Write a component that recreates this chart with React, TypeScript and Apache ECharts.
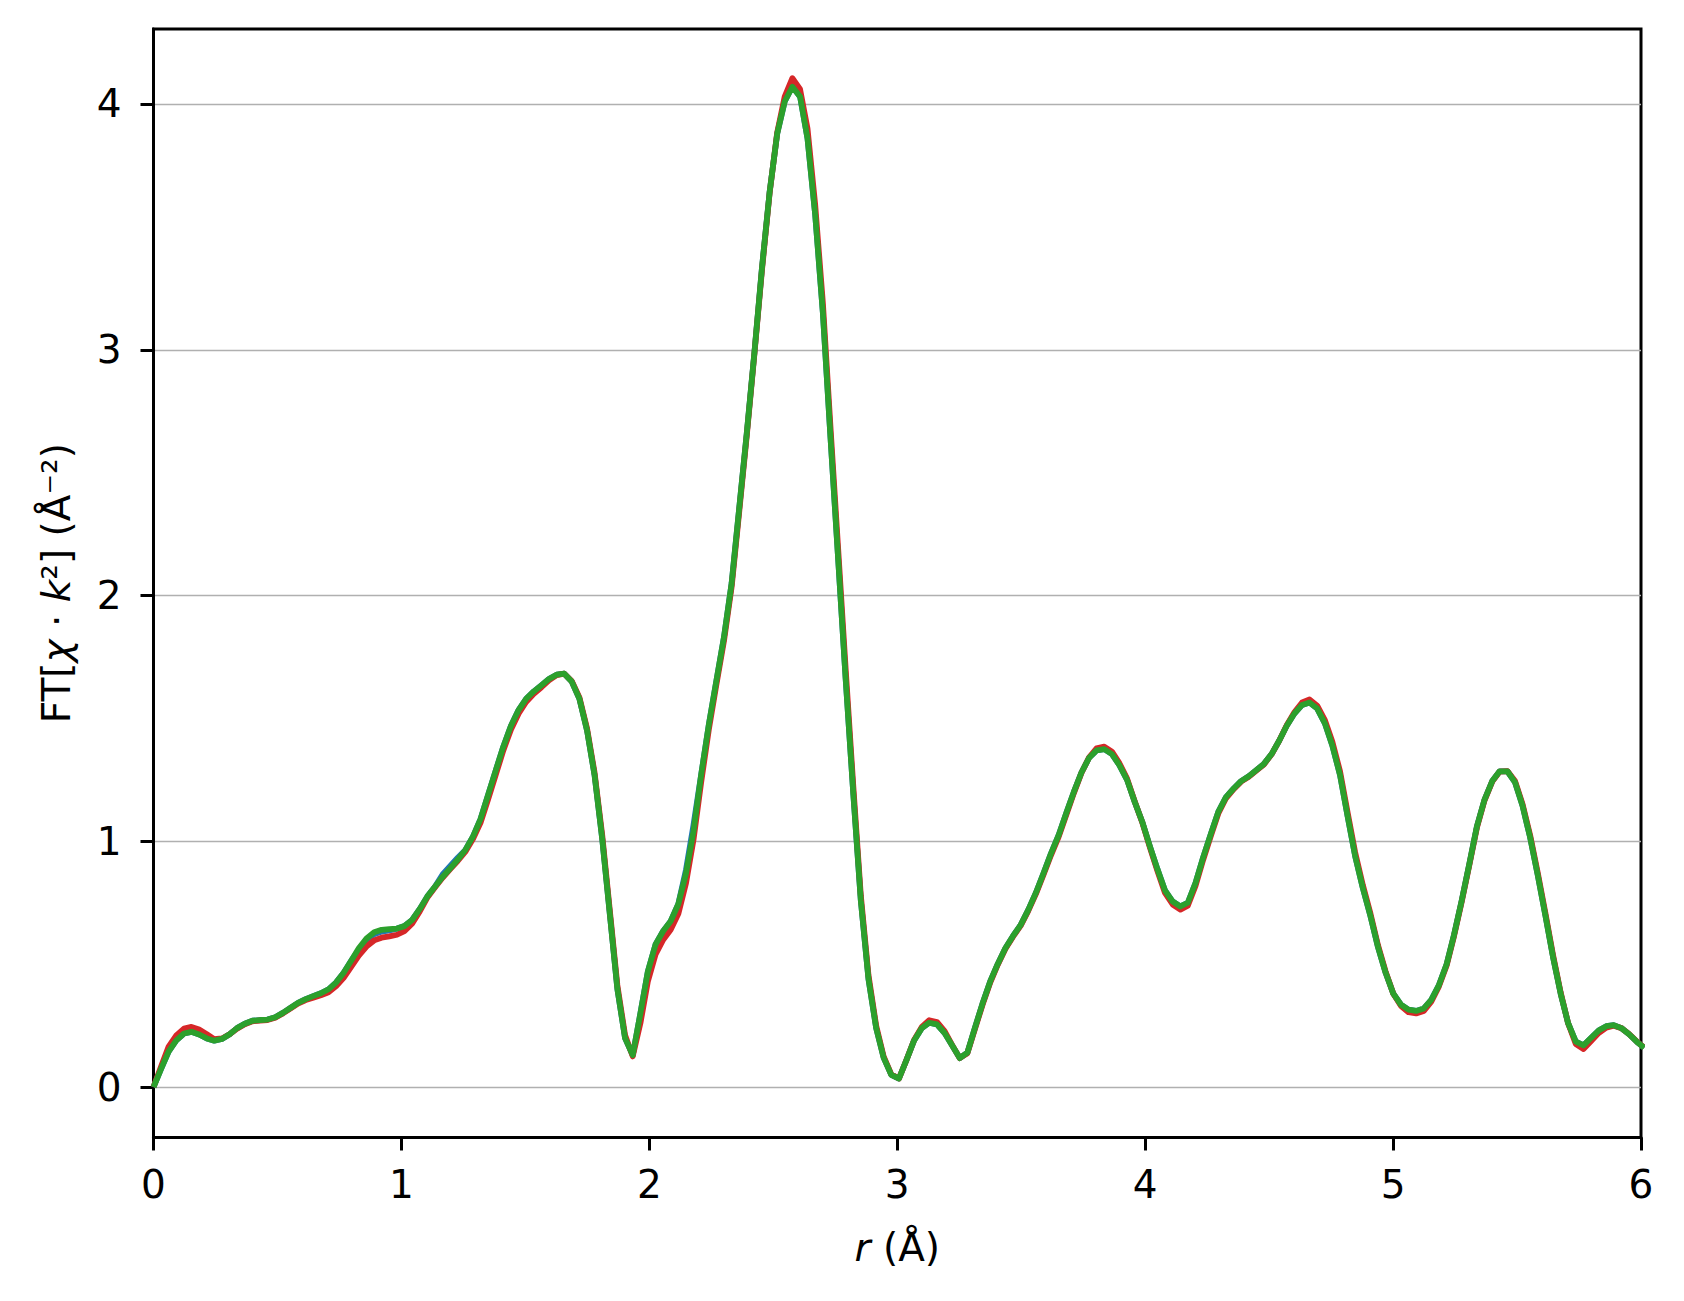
import React, { useEffect, useRef } from "react";
import * as echarts from "echarts";

// r grid (Å)
const rValues = [
  0.000, 0.031, 0.061, 0.092, 0.123, 0.153, 0.184, 0.215, 0.245, 0.276,
  0.307, 0.337, 0.368, 0.399, 0.430, 0.460, 0.491, 0.522, 0.552, 0.583,
  0.614, 0.644, 0.675, 0.706, 0.736, 0.767, 0.798, 0.828, 0.859, 0.890,
  0.920, 0.951, 0.982, 1.012, 1.043, 1.074, 1.104, 1.135, 1.166, 1.197,
  1.227, 1.258, 1.289, 1.319, 1.350, 1.381, 1.411, 1.442, 1.473, 1.503,
  1.534, 1.565, 1.595, 1.626, 1.657, 1.687, 1.718, 1.749, 1.779, 1.810,
  1.841, 1.871, 1.902, 1.933, 1.964, 1.994, 2.025, 2.056, 2.086, 2.117,
  2.148, 2.178, 2.209, 2.240, 2.270, 2.301, 2.332, 2.362, 2.393, 2.424,
  2.454, 2.485, 2.516, 2.546, 2.577, 2.608, 2.638, 2.669, 2.700, 2.731,
  2.761, 2.792, 2.823, 2.853, 2.884, 2.915, 2.945, 2.976, 3.007, 3.037,
  3.068, 3.099, 3.129, 3.160, 3.191, 3.221, 3.252, 3.283, 3.313, 3.344,
  3.375, 3.405, 3.436, 3.467, 3.498, 3.528, 3.559, 3.590, 3.620, 3.651,
  3.682, 3.712, 3.743, 3.774, 3.804, 3.835, 3.866, 3.896, 3.927, 3.958,
  3.988, 4.019, 4.050, 4.080, 4.111, 4.142, 4.172, 4.203, 4.234, 4.265,
  4.295, 4.326, 4.357, 4.387, 4.418, 4.449, 4.479, 4.510, 4.541, 4.571,
  4.602, 4.633, 4.663, 4.694, 4.725, 4.755, 4.786, 4.817, 4.847, 4.878,
  4.909, 4.939, 4.970, 5.001, 5.032, 5.062, 5.093, 5.124, 5.154, 5.185,
  5.216, 5.246, 5.277, 5.308, 5.338, 5.369, 5.400, 5.430, 5.461, 5.492,
  5.522, 5.553, 5.584, 5.614, 5.645, 5.676, 5.706, 5.737, 5.768, 5.798,
  5.829, 5.860, 5.890, 5.921, 5.952, 5.983, 6.013,
];

const greenValues = [
  0.000, 0.075, 0.145, 0.190, 0.218, 0.225, 0.214, 0.198, 0.189, 0.196,
  0.215, 0.240, 0.258, 0.270, 0.273, 0.275, 0.284, 0.302, 0.322, 0.343,
  0.358, 0.370, 0.382, 0.398, 0.425, 0.465, 0.515, 0.565, 0.605, 0.630,
  0.640, 0.643, 0.645, 0.655, 0.680, 0.725, 0.775, 0.815, 0.855, 0.890,
  0.925, 0.965, 1.020, 1.090, 1.190, 1.290, 1.385, 1.470, 1.535, 1.580,
  1.610, 1.635, 1.660, 1.678, 1.682, 1.650, 1.580, 1.450, 1.270, 1.010,
  0.700, 0.400, 0.200, 0.130, 0.300, 0.470, 0.580, 0.635, 0.675, 0.745,
  0.870, 1.040, 1.270, 1.475, 1.650, 1.830, 2.050, 2.350, 2.660, 2.990,
  3.330, 3.640, 3.880, 4.010, 4.070, 4.030, 3.860, 3.550, 3.150, 2.640,
  2.160, 1.660, 1.190, 0.760, 0.440, 0.240, 0.120, 0.050, 0.035, 0.110,
  0.190, 0.240, 0.262, 0.255, 0.220, 0.170, 0.118, 0.140, 0.240, 0.340,
  0.430, 0.500, 0.565, 0.615, 0.660, 0.720, 0.790, 0.870, 0.950, 1.025,
  1.115, 1.200, 1.280, 1.340, 1.370, 1.375, 1.355, 1.310, 1.250, 1.160,
  1.080, 0.980, 0.885, 0.800, 0.755, 0.735, 0.750, 0.830, 0.935, 1.030,
  1.120, 1.180, 1.215, 1.245, 1.265, 1.290, 1.315, 1.355, 1.410, 1.470,
  1.520, 1.555, 1.565, 1.540, 1.480, 1.390, 1.270, 1.100, 0.940, 0.810,
  0.695, 0.570, 0.465, 0.380, 0.335, 0.315, 0.310, 0.320, 0.355, 0.415,
  0.500, 0.620, 0.760, 0.910, 1.060, 1.170, 1.245, 1.285, 1.285, 1.240,
  1.145, 1.015, 0.860, 0.700, 0.530, 0.380, 0.260, 0.185, 0.170, 0.200,
  0.230, 0.248, 0.252, 0.240, 0.215, 0.185, 0.160,
];

const redValues = [
  0.000, 0.085, 0.165, 0.210, 0.238, 0.245, 0.234, 0.215, 0.195, 0.198,
  0.215, 0.238, 0.256, 0.268, 0.271, 0.273, 0.282, 0.300, 0.320, 0.340,
  0.354, 0.364, 0.374, 0.386, 0.410, 0.445, 0.490, 0.535, 0.572, 0.597,
  0.608, 0.613, 0.620, 0.635, 0.665, 0.715, 0.770, 0.812, 0.852, 0.887,
  0.920, 0.958, 1.010, 1.075, 1.172, 1.272, 1.370, 1.455, 1.520, 1.567,
  1.600, 1.627, 1.655, 1.676, 1.682, 1.652, 1.585, 1.458, 1.280, 1.025,
  0.715, 0.415, 0.212, 0.125, 0.260, 0.430, 0.540, 0.600, 0.640, 0.705,
  0.830, 1.005, 1.240, 1.455, 1.635, 1.815, 2.035, 2.335, 2.650, 2.985,
  3.320, 3.635, 3.885, 4.030, 4.105, 4.060, 3.900, 3.590, 3.190, 2.680,
  2.200, 1.700, 1.220, 0.780, 0.455, 0.250, 0.125, 0.052, 0.035, 0.110,
  0.192, 0.245, 0.272, 0.265, 0.228, 0.172, 0.118, 0.138, 0.235, 0.335,
  0.425, 0.497, 0.562, 0.612, 0.657, 0.716, 0.785, 0.864, 0.943, 1.018,
  1.108, 1.195, 1.278, 1.342, 1.378, 1.385, 1.365, 1.318, 1.255, 1.162,
  1.078, 0.975, 0.878, 0.790, 0.743, 0.722, 0.738, 0.818, 0.925, 1.022,
  1.113, 1.175, 1.212, 1.243, 1.263, 1.288, 1.313, 1.354, 1.410, 1.472,
  1.525, 1.565, 1.577, 1.552, 1.493, 1.405, 1.285, 1.115, 0.955, 0.822,
  0.705, 0.578, 0.470, 0.380, 0.330, 0.305, 0.300, 0.310, 0.348, 0.410,
  0.495, 0.615, 0.755, 0.905, 1.055, 1.167, 1.243, 1.284, 1.286, 1.245,
  1.152, 1.024, 0.870, 0.710, 0.538, 0.385, 0.260, 0.175, 0.155, 0.187,
  0.220, 0.242, 0.250, 0.240, 0.216, 0.186, 0.161,
];

const blueValues = [
  0.000, 0.075, 0.145, 0.190, 0.218, 0.225, 0.214, 0.198, 0.189, 0.196,
  0.215, 0.240, 0.258, 0.270, 0.273, 0.275, 0.284, 0.302, 0.322, 0.343,
  0.358, 0.370, 0.382, 0.398, 0.425, 0.465, 0.515, 0.558, 0.597, 0.622,
  0.633, 0.638, 0.645, 0.655, 0.680, 0.725, 0.775, 0.815, 0.865, 0.900,
  0.933, 0.965, 1.020, 1.090, 1.190, 1.290, 1.385, 1.470, 1.535, 1.580,
  1.610, 1.635, 1.660, 1.678, 1.682, 1.650, 1.580, 1.450, 1.270, 1.010,
  0.700, 0.400, 0.200, 0.130, 0.300, 0.470, 0.580, 0.635, 0.675, 0.745,
  0.885, 1.065, 1.270, 1.475, 1.650, 1.830, 2.050, 2.350, 2.660, 2.990,
  3.330, 3.640, 3.880, 4.010, 4.070, 4.030, 3.860, 3.550, 3.150, 2.640,
  2.160, 1.660, 1.190, 0.760, 0.440, 0.240, 0.120, 0.050, 0.035, 0.110,
  0.190, 0.240, 0.262, 0.255, 0.220, 0.170, 0.118, 0.140, 0.240, 0.340,
  0.430, 0.500, 0.565, 0.615, 0.660, 0.720, 0.790, 0.870, 0.950, 1.025,
  1.115, 1.200, 1.280, 1.340, 1.370, 1.375, 1.355, 1.310, 1.250, 1.160,
  1.080, 0.980, 0.885, 0.800, 0.755, 0.735, 0.750, 0.830, 0.935, 1.030,
  1.120, 1.180, 1.215, 1.245, 1.265, 1.290, 1.315, 1.355, 1.410, 1.470,
  1.520, 1.555, 1.565, 1.540, 1.480, 1.390, 1.270, 1.100, 0.940, 0.810,
  0.695, 0.570, 0.465, 0.380, 0.335, 0.315, 0.310, 0.320, 0.355, 0.415,
  0.500, 0.620, 0.760, 0.910, 1.060, 1.170, 1.245, 1.285, 1.285, 1.240,
  1.145, 1.015, 0.860, 0.700, 0.530, 0.380, 0.260, 0.185, 0.170, 0.200,
  0.230, 0.248, 0.252, 0.240, 0.215, 0.185, 0.160,
];

const xTicks = [0, 1, 2, 3, 4, 5, 6];
const yTicks = [0, 1, 2, 3, 4];
const yLimits = [-0.205, 4.305];

const FONT = "DejaVu Sans";

export default function App() {
  const ref = useRef<HTMLDivElement>(null);
  useEffect(() => {
    if (!ref.current) return;
    const chart = echarts.init(ref.current, undefined, { renderer: "svg" });

    // plot area geometry (px)
    const H = 1301;
    const plotLeft = 153.5;
    const plotRight = 43;
    const plotTop = 29;
    const plotBottom = 163.5;
    const plotH = H - plotTop - plotBottom;
    const pxPerUnit = plotH / (yLimits[1] - yLimits[0]);
    const yTickMin = yTicks[0];
    const yTickMax = yTicks[yTicks.length - 1];
    // second (tick/grid-line) grid spans exactly the tick range of the data axis
    const tickGridTop = plotTop + (yLimits[1] - yTickMax) * pxPerUnit;
    const tickGridBottom = plotBottom + (yTickMin - yLimits[0]) * pxPerUnit;

    const spine = { show: true, onZero: false, lineStyle: { color: "#000", width: 3 } };
    const tick = { show: true, inside: false, length: 13, lineStyle: { color: "#000", width: 3 } };

    const pairs = (vals: number[]) => rValues.map((r, i) => [r, vals[i]]);
    const lineSeries = (name: string, color: string, vals: number[]) => ({
      name,
      type: "line",
      xAxisIndex: 0,
      yAxisIndex: 0,
      data: pairs(vals),
      showSymbol: false,
      symbol: "none",
      silent: true,
      clip: true,
      z: 2,
      lineStyle: { color, width: 5.8, join: "round", cap: "butt" },
      emphasis: { disabled: true },
    });

    const option: any = {
      animation: false,
      backgroundColor: "#ffffff",
      textStyle: { fontFamily: FONT },
      grid: [
        {
          left: plotLeft,
          right: plotRight,
          top: plotTop,
          bottom: plotBottom,
          show: true,
          borderColor: "#000000",
          borderWidth: 3,
          backgroundColor: "transparent",
          containLabel: false,
          outerBoundsMode: "none",
        },
        {
          left: plotLeft,
          right: plotRight,
          top: tickGridTop,
          bottom: tickGridBottom,
          show: false,
          containLabel: false,
          outerBoundsMode: "none",
        },
      ],
      xAxis: [
        {
          type: "value",
          gridIndex: 0,
          position: "bottom",
          min: xTicks[0],
          max: xTicks[xTicks.length - 1],
          interval: 1,
          axisLine: spine,
          axisTick: tick,
          axisLabel: { fontSize: 39, color: "#000", fontFamily: FONT, margin: 27 },
          splitLine: { show: false },
          name: "{i|r} (Å)",
          nameLocation: "middle",
          nameGap: 90,
          nameTextStyle: {
            fontSize: 39,
            color: "#000",
            fontFamily: FONT,
            lineHeight: 39,
            rich: {
              i: { fontStyle: "italic", fontSize: 39, fontFamily: FONT, color: "#000", lineHeight: 39 },
            },
          },
        },
        {
          type: "value",
          gridIndex: 1,
          min: xTicks[0],
          max: xTicks[xTicks.length - 1],
          show: false,
        },
      ],
      yAxis: [
        {
          type: "value",
          gridIndex: 0,
          position: "left",
          min: yLimits[0],
          max: yLimits[1],
          axisLine: spine,
          axisTick: { show: false },
          axisLabel: { show: false },
          splitLine: { show: false },
          name: "{n|FT[}{i|χ}{n| · }{i|k}{n|²] (Å⁻²)}",
          nameLocation: "middle",
          nameGap: 78,
          nameRotate: 90,
          nameTextStyle: {
            fontSize: 39,
            color: "#000",
            fontFamily: FONT,
            lineHeight: 39,
            rich: {
              n: { fontSize: 39, fontFamily: FONT, color: "#000", lineHeight: 39 },
              i: { fontStyle: "italic", fontSize: 39, fontFamily: FONT, color: "#000", lineHeight: 39 },
            },
          },
        },
        {
          type: "value",
          gridIndex: 1,
          position: "left",
          min: yTickMin,
          max: yTickMax,
          interval: 1,
          axisLine: spine,
          axisTick: tick,
          axisLabel: { fontSize: 39, color: "#000", fontFamily: FONT, margin: 32 },
          splitLine: { show: true, lineStyle: { color: "#b0b0b0", width: 1.3, type: "solid" } },
        },
      ],
      series: [
        lineSeries("blue", "#1f77b4", blueValues),
        lineSeries("red", "#d62728", redValues),
        lineSeries("green", "#2ca02c", greenValues),
      ],
    };
    chart.setOption(option);
    return () => chart.dispose();
  }, []);
  return (
    <div
      ref={ref}
      style={{ position: "absolute", left: 0, top: 0, width: 1684, height: 1301, background: "#fff" }}
    />
  );
}
